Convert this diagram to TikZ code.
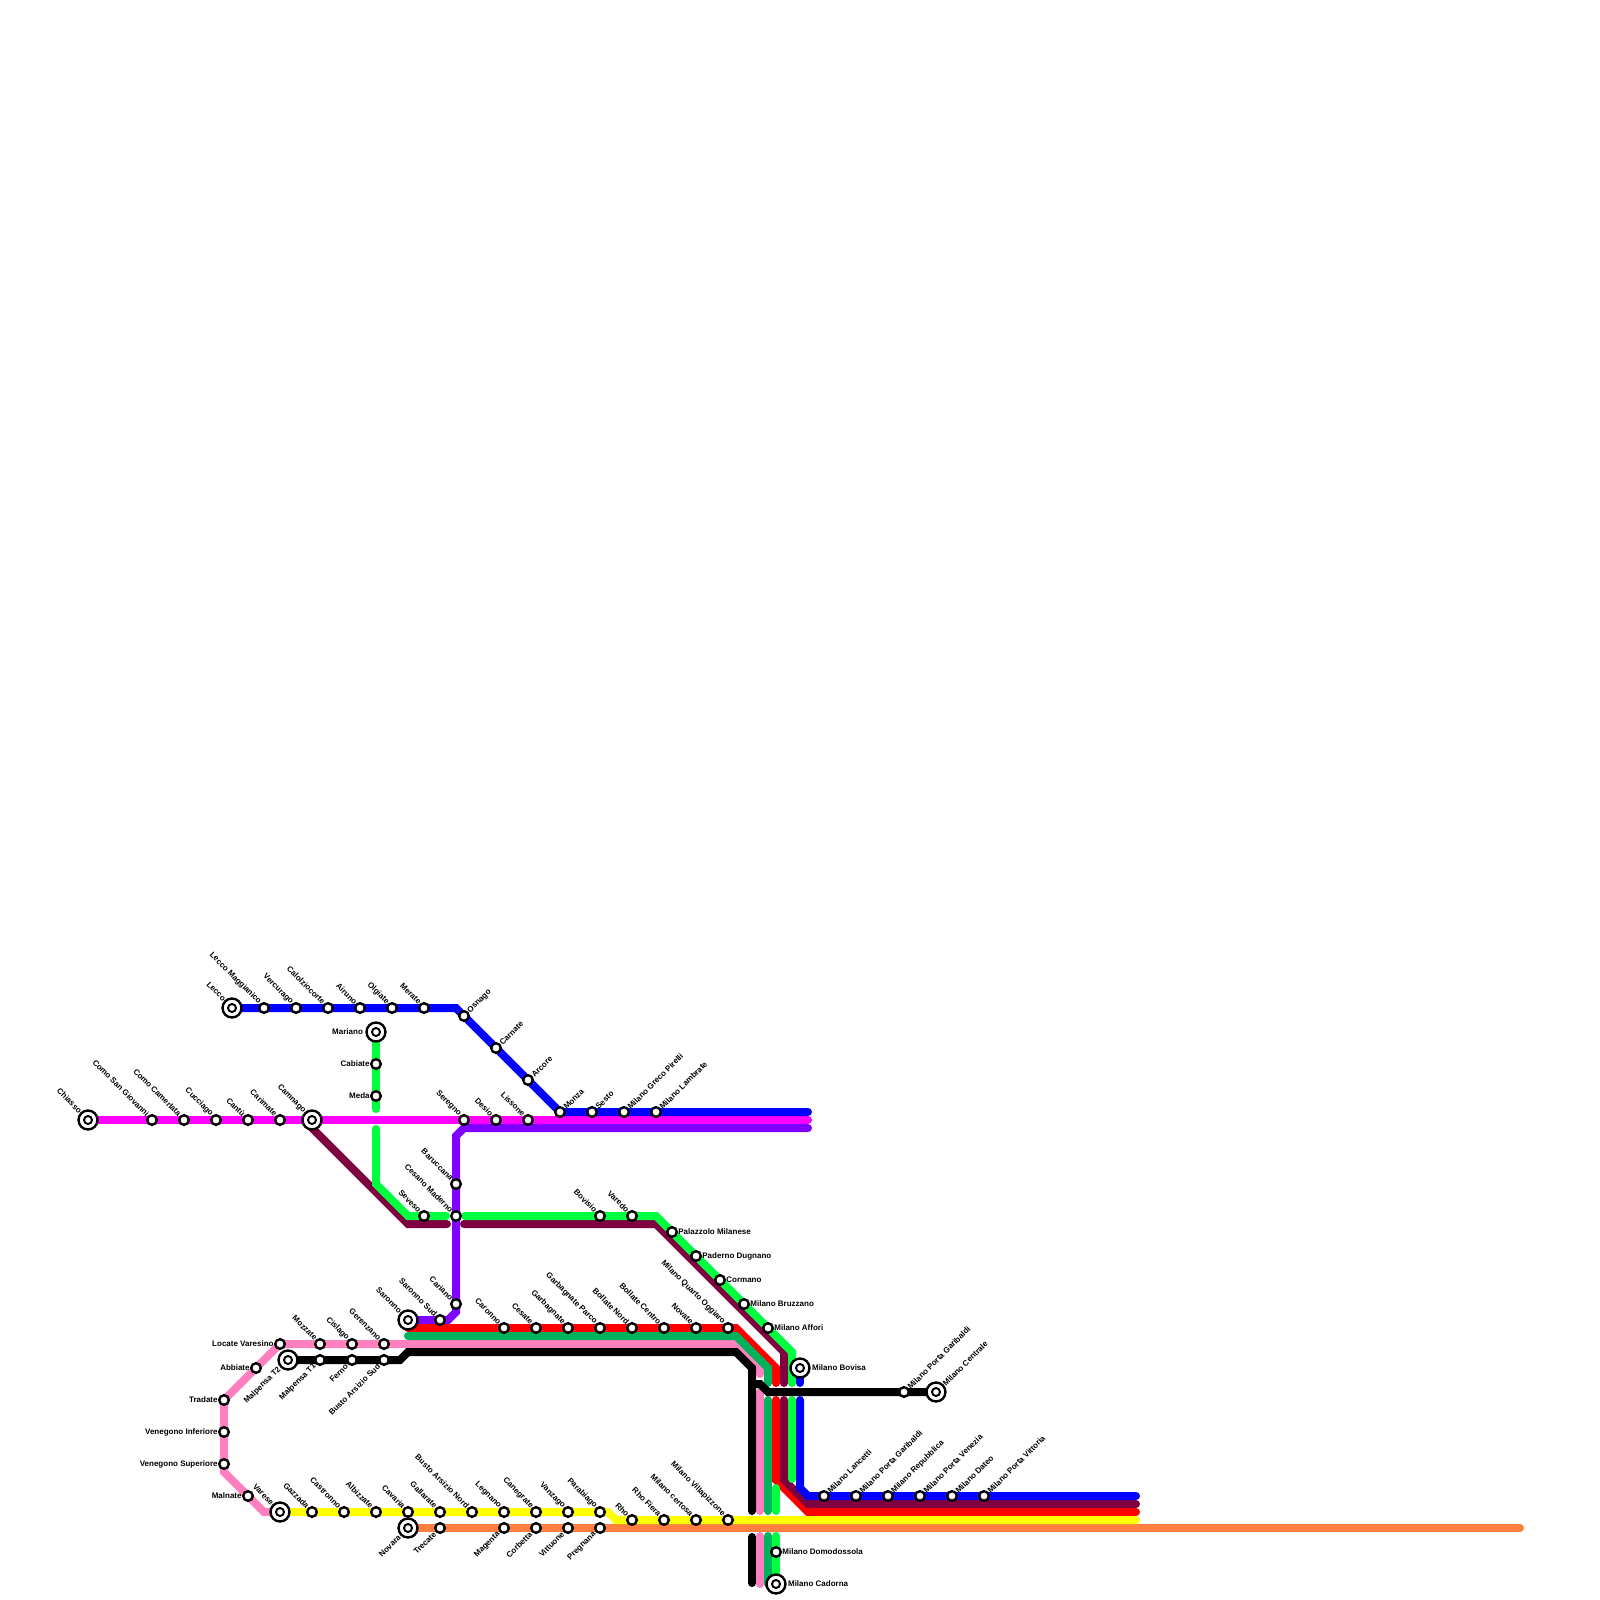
\documentclass[tikz,border=0pt]{standalone}
\usepackage{fontspec}
\setmainfont{Liberation Sans}
\usepackage{xcolor}
\usetikzlibrary{%
  backgrounds,
  positioning}
\definecolor{lblue}{HTML}{0000FF}
\definecolor{lmagenta}{HTML}{FF00FF}
\definecolor{lpurple}{HTML}{7F00FF}
\definecolor{lgreen}{HTML}{00FF3F}
\definecolor{lmaroon}{HTML}{7F003F}
\definecolor{lred}{HTML}{FF0000}
\definecolor{ldgreen}{HTML}{00B25C}
\definecolor{lpink}{HTML}{FF7FBF}
\definecolor{lyellow}{HTML}{FFFF00}
\definecolor{lorange}{HTML}{FF7F3F}
\tikzset{
  %% Railway lines
  railline/.style={line width=8pt, line cap=round, miter limit=10},
  blueline/.style={railline, lblue},
  magline/.style={railline, lmagenta},
  purpline/.style={railline, lpurple},
  greenline/.style={railline, lgreen},
  maroonline/.style={railline, lmaroon},
  redline/.style={railline, lred},
  dgreenline/.style={railline, ldgreen},
  pinkline/.style={railline, lpink},
  blackline/.style={railline, black},
  yellowline/.style={railline, lyellow},
  orangeline/.style={railline, lorange},
  %% Stations
  stn/.style={
    circle, draw=black, fill=white, line width=2.4pt,
    minimum size=9.6pt, inner sep=0pt},
  term/.style={
    circle, draw=black, fill=white, line width=2.4pt,
    minimum size=19pt, inner sep=0pt,
    path picture={\draw[black, fill=white, line width=2pt]
      (path picture bounding box.center) circle (4pt);}},
  %% Station labels
  lbl/.style={font=\fontsize{8}{9}\selectfont\bfseries, inner sep=0.7pt},
  lnw/.style={label={[lbl, rotate=-45, anchor=east, xshift=0.4pt, yshift=0.6pt]135:#1}},
  lne/.style={label={[lbl, rotate=45, anchor=west, xshift=-0.5pt, yshift=-0.5pt]45:#1}},
  lsw/.style={label={[lbl, rotate=45, anchor=east, xshift=-0.5pt]225:#1}},
  lw/.style={label={[lbl, anchor=east, xshift=0.5pt]180:#1}},
  le/.style={label={[lbl, anchor=west, xshift=-0.5pt]0:#1}},
  %% Terminus labels sit a little further out
  tlw/.style={label={[lbl, anchor=east, xshift=-1.5pt]180:#1}},
  tle/.style={label={[lbl, anchor=west, xshift=0.5pt]0:#1}},
}
\begin{document}
\begin{tikzpicture}[x=1pt, y=-1pt]
  \useasboundingbox (0,0) rectangle (1600,1600);

  %% Magenta line
  \node[term, lnw=Chiasso]          (chi) at (88,1120) {};
  \node[stn, lnw=Como San Giovanni] (csg) at (152,1120) {};
  \node[stn, lnw=Como Camerlata]    (cca) at (184,1120) {};
  \node[stn, lnw=Cucciago]          (cuc) at (216,1120) {};
  \node[stn, lnw=Cantù]             (can) at (248,1120) {};
  \node[stn, lnw=Carimate]          (car) at (280,1120) {};
  \node[term, lnw=Camnago]          (cam) at (312,1120) {};
  \node[stn, lnw=Seregno]           (ser) at (464,1120) {};
  \node[stn, lnw=Desio]             (des) at (496,1120) {};
  \node[stn, lnw=Lissone]           (lis) at (528,1120) {};

  %% Blue line
  \node[term, lnw=Lecco]            (lec) at (232,1008) {};
  \node[stn, lnw=Lecco Maggianico]  (lma) at (264,1008) {};
  \node[stn, lnw=Vercurago]         (ver) at (296,1008) {};
  \node[stn, lnw=Calolziocorte]     (cal) at (328,1008) {};
  \node[stn, lnw=Airuno]            (air) at (360,1008) {};
  \node[stn, lnw=Olgiate]           (olg) at (392,1008) {};
  \node[stn, lnw=Merate]            (mer) at (424,1008) {};
  \node[stn, lne=Osnago]            (osn) at (464,1016) {};
  \node[stn, lne=Carnate]           (crn) at (496,1048) {};
  \node[stn, lne=Arcore]            (arc) at (528,1080) {};
  \node[stn, lne=Monza]             (mon) at (560,1112) {};
  \node[stn, lne=Sesto]             (ses) at (592,1112) {};
  \node[stn, lne=Milano Greco Pirelli] (mgp) at (624,1112) {};
  \node[stn, lne=Milano Lambrate]   (mla) at (656,1112) {};
  \node[term, tle=Milano Bovisa]    (mbo) at (800,1368) {};
  \node[stn, lne=Milano Lancetti]   (mlc) at (824,1496) {};
  \node[stn, lne=Milano Porta Garibaldi] (mpg) at (856,1496) {};
  \node[stn, lne=Milano Repubblica] (mre) at (888,1496) {};
  \node[stn, lne=Milano Porta Venezia] (mpv) at (920,1496) {};
  \node[stn, lne=Milano Dateo]      (mda) at (952,1496) {};
  \node[stn, lne=Milano Porta Vittoria] (mpt) at (984,1496) {};

  %% Green line
  \node[term, tlw=Mariano]          (mar) at (376,1032) {};
  \node[stn, lw=Cabiate]            (cab) at (376,1064) {};
  \node[stn, lw=Meda]               (med) at (376,1096) {};
  \node[stn, lnw=Seveso]            (sev) at (424,1216) {};
  \node[stn, lnw=Bovisio]           (bov) at (600,1216) {};
  \node[stn, lnw=Varedo]            (var) at (632,1216) {};
  \node[stn, le=Palazzolo Milanese] (pal) at (672,1232) {};
  \node[stn, le=Paderno Dugnano]    (pad) at (696,1256) {};
  \node[stn, le=Cormano]            (cor) at (720,1280) {};
  \node[stn, le=Milano Bruzzano]    (mbr) at (744,1304) {};
  \node[stn, le=Milano Affori]      (maf) at (768,1328) {};
  \node[stn, le=Milano Domodossola] (mdo) at (776,1552) {};
  \node[term, tle=Milano Cadorna]   (mca) at (776,1584) {};

  %% Purple line
  \node[term, lnw=Saronno]          (sar) at (408,1320) {};
  \node[stn, lnw=Saronno Sud]       (ssu) at (440,1320) {};
  \node[stn, lnw=Cariano]           (cri) at (456,1304) {};
  \node[stn, lnw=Cesano Maderno]    (ces) at (456,1216) {};
  \node[stn, lnw=Baruccana]         (bar) at (456,1184) {};

  %% Red line
  \node[stn, lnw=Caronno]           (cro) at (504,1328) {};
  \node[stn, lnw=Cesate]            (cst) at (536,1328) {};
  \node[stn, lnw=Garbagnate]        (gar) at (568,1328) {};
  \node[stn, lnw=Garbagnate Parco]  (gpa) at (600,1328) {};
  \node[stn, lnw=Bollate Nord]      (bno) at (632,1328) {};
  \node[stn, lnw=Bollate Centro]    (bce) at (664,1328) {};
  \node[stn, lnw=Novate]            (nov) at (696,1328) {};
  \node[stn, lnw=Milano Quarto Oggiaro] (mqo) at (728,1328) {};

  %% Pink line
  \node[stn, lw=Locate Varesino]    (loc) at (280,1344) {};
  \node[stn, lnw=Mozzate]           (moz) at (320,1344) {};
  \node[stn, lnw=Cislago]           (cis) at (352,1344) {};
  \node[stn, lnw=Gerenzano]         (ger) at (384,1344) {};
  \node[stn, lw=Abbiate]            (abb) at (256,1368) {};
  \node[stn, lw=Tradate]            (tra) at (224,1400) {};
  \node[stn, lw=Venegono Inferiore] (vin) at (224,1432) {};
  \node[stn, lw=Venegono Superiore] (vsu) at (224,1464) {};
  \node[stn, lw=Malnate]            (mal) at (248,1496) {};

  %% Black line
  \node[term, lsw=Malpensa T2]      (mt2) at (288,1360) {};
  \node[stn, lsw=Malpensa T1]       (mt1) at (320,1360) {};
  \node[stn, lsw=Ferno]             (fer) at (352,1360) {};
  \node[stn, lsw=Busto Arsizio Sud] (bas) at (384,1360) {};
  \node[stn, lne=Milano Porta Garibaldi] (mgb) at (904,1392) {};
  \node[term, lne=Milano Centrale]  (mce) at (936,1392) {};

  %% Yellow line
  \node[term, lnw=Varese]           (vrs) at (280,1512) {};
  \node[stn, lnw=Gazzada]           (gaz) at (312,1512) {};
  \node[stn, lnw=Castronno]         (cas) at (344,1512) {};
  \node[stn, lnw=Albizzate]         (alb) at (376,1512) {};
  \node[stn, lnw=Cavaria]           (cav) at (408,1512) {};
  \node[stn, lnw=Gallarate]         (gal) at (440,1512) {};
  \node[stn, lnw=Busto Arsizio Nord] (ban) at (472,1512) {};
  \node[stn, lnw=Legnano]           (leg) at (504,1512) {};
  \node[stn, lnw=Canegrate]         (cne) at (536,1512) {};
  \node[stn, lnw=Vanzago]           (van) at (568,1512) {};
  \node[stn, lnw=Parabiago]         (par) at (600,1512) {};
  \node[stn, lnw=Rho]               (rho) at (632,1520) {};
  \node[stn, lnw=Rho Fiera]         (rfi) at (664,1520) {};
  \node[stn, lnw=Milano certosa]    (mcs) at (696,1520) {};
  \node[stn, lnw=Milano Villapizzone] (mvi) at (728,1520) {};

  %% Orange line
  \node[term, lsw=Novara]           (nor) at (408,1528) {};
  \node[stn, lsw=Trecate]           (tre) at (440,1528) {};
  \node[stn, lsw=Magenta]           (mag) at (504,1528) {};
  \node[stn, lsw=Corbetta]          (crb) at (536,1528) {};
  \node[stn, lsw=Vittuone]          (vit) at (568,1528) {};
  \node[stn, lsw=Pregnana]          (pre) at (600,1528) {};

  \begin{scope}[on background layer]
    %% Magenta
    \draw[magline] (chi.center) -- (808,1120);

    %% Purple
    \draw[purpline] (sar.center) -- (448,1320) -- (456,1312) -- (456,1136)
      -- (464,1128) -- (808,1128);

    %% Red
    \draw[redline] (408,1328) -- (736,1328) -- (776,1368) -- (776,1383);
    \draw[redline] (776,1400) -- (776,1480) -- (808,1512) -- (1136,1512);

    %% Maroon
    \draw[maroonline] (312,1128) -- (408,1224) -- (447,1224);
    \draw[maroonline] (464,1224) -- (656,1224) -- (784,1352) -- (784,1383);
    \draw[maroonline] (784,1400) -- (784,1480) -- (808,1504) -- (1136,1504);

    %% Green
    \draw[greenline] (mar.center) -- (376,1109);
    \draw[greenline] (376,1129) -- (376,1184) -- (408,1216) -- (446,1216);
    \draw[greenline] (465,1216) -- (656,1216) -- (792,1352) -- (792,1383);
    \draw[greenline] (792,1400) -- (792,1479);
    \draw[greenline] (776,1488) -- (776,1511);
    \draw[greenline] (776,1536) -- (mca.center);

    %% Blue
    \draw[blueline] (lec.center) -- (456,1008) -- (mon.center) -- (808,1112);
    \draw[blueline] (mbo.center) -- (800,1383);
    \draw[blueline] (800,1400) -- (800,1488) -- (808,1496) -- (1136,1496);

    %% Pink
    \draw[pinkline] (vrs.center) -- (264,1512) -- (224,1472) -- (tra.center)
      -- (loc.center) -- (736,1344) -- (760,1368) -- (760,1374);
    \draw[pinkline] (760,1392) -- (760,1511);
    \draw[pinkline] (760,1536) -- (760,1584);

    %% Dark green
    \draw[dgreenline] (408,1336) -- (736,1336) -- (768,1368) -- (768,1383);
    \draw[dgreenline] (768,1400) -- (768,1511);
    \draw[dgreenline] (768,1536) -- (768,1584);

    %% Black
    \draw[blackline] (mt2.center) -- (400,1360) -- (408,1352) -- (736,1352)
      -- (752,1368) -- (752,1511);
    \draw[blackline] (752,1537) -- (752,1583);
    \draw[blackline] (752,1384) -- (760,1384) -- (768,1392) -- (mce.center);

    %% Orange and yellow
    \draw[orangeline] (nor.center) -- (1520,1528);
    \draw[yellowline] (vrs.center) -- (608,1512) -- (616,1520) -- (1136,1520);
  \end{scope}

\end{tikzpicture}
\end{document}
